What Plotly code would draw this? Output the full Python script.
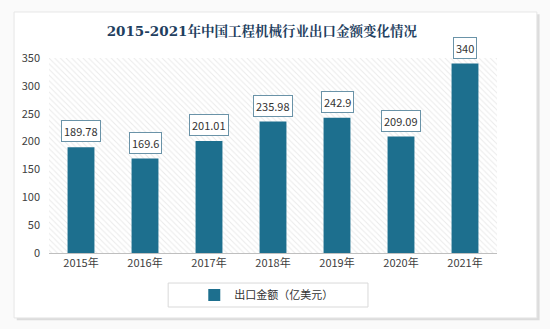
import plotly.graph_objects as go

categories = ["2015年", "2016年", "2017年", "2018年", "2019年", "2020年", "2021年"]
values = [189.78, 169.6, 201.01, 235.98, 242.9, 209.09, 340]
label_texts = ["189.78", "169.6", "201.01", "235.98", "242.9", "209.09", "340"]
y_ticks = [0, 50, 100, 150, 200, 250, 300, 350]
series_name = "出口金额（亿美元）"
title_text = "2015-2021年中国工程机械行业出口金额变化情况"

BAR = "#1D6F8E"
FONT = "Noto Sans CJK SC"

fig = go.Figure()

# hatched plot background (on hidden numeric axis x)
fig.add_trace(go.Bar(
    x=[0.5], y=[350], width=[1], xaxis="x", yaxis="y",
    marker=dict(color="#FFFFFF", line=dict(width=0),
                pattern=dict(shape="\\", fgcolor="#D6D6D6", bgcolor="#FFFFFF", size=4, solidity=0.25)),
    showlegend=False, hoverinfo="skip",
))

fig.add_trace(go.Bar(
    x=categories, y=values, name=series_name, xaxis="x2", yaxis="y",
    marker=dict(color=BAR, line=dict(width=0)),
    width=0.42,
))

for c, v, t in zip(categories, values, label_texts):
    fig.add_annotation(
        x=c, y=v, xref="x2", yref="y", text=t, showarrow=False,
        yanchor="bottom", yshift=5,
        font=dict(family=FONT, size=11, color="#333333"),
        bgcolor="#FFFFFF", bordercolor="#6A93A8", borderwidth=1, borderpad=2,
    )

# card with shadow
fig.add_shape(type="rect", xref="paper", yref="paper", layer="below",
              x0=-0.072, x1=1.095, y0=-0.345, y1=1.225,
              fillcolor="#DCDCDC", line=dict(width=0))
fig.add_shape(type="rect", xref="paper", yref="paper", layer="below",
              x0=-0.078, x1=1.089, y0=-0.333, y1=1.236,
              fillcolor="#FFFFFF", line=dict(color="#E6E6E6", width=1))
# legend frame
fig.add_shape(type="rect", xref="paper", yref="paper", layer="below",
              x0=0.266, x1=0.712, y0=-0.277, y1=-0.154,
              fillcolor="#FFFFFF", line=dict(color="#D9D9D9", width=1))

fig.update_layout(
    width=550, height=329,
    margin=dict(l=49, r=53, t=58, b=76),
    paper_bgcolor="#FAFAFA", plot_bgcolor="rgba(0,0,0,0)",
    title=dict(text="<b>" + title_text + "</b>", x=0.476, xanchor="center", y=0.905, yanchor="middle",
               font=dict(family="DejaVu Serif, Noto Serif CJK SC, serif", size=13.5, color="#1F3F5F")),
    barmode="overlay",
    xaxis=dict(range=[0, 1], visible=False),
    xaxis2=dict(type="category", overlaying="x", side="bottom", showgrid=False, showline=True,
                linecolor="#BFBFBF", linewidth=1,
                ticks="", tickfont=dict(family=FONT, size=11, color="#404040")),
    yaxis=dict(range=[0, 350], tickvals=y_ticks, showgrid=False, zeroline=False,
               ticks="", tickfont=dict(family=FONT, size=11, color="#404040"), ticklabelstandoff=8),
    showlegend=True,
    legend=dict(orientation="h", x=0.485, xanchor="center", y=-0.2155, yanchor="middle",
                bgcolor="rgba(0,0,0,0)", borderwidth=0,
                font=dict(family=FONT, size=11, color="#333333"), itemwidth=30),
)

fig.write_html("out.html")
